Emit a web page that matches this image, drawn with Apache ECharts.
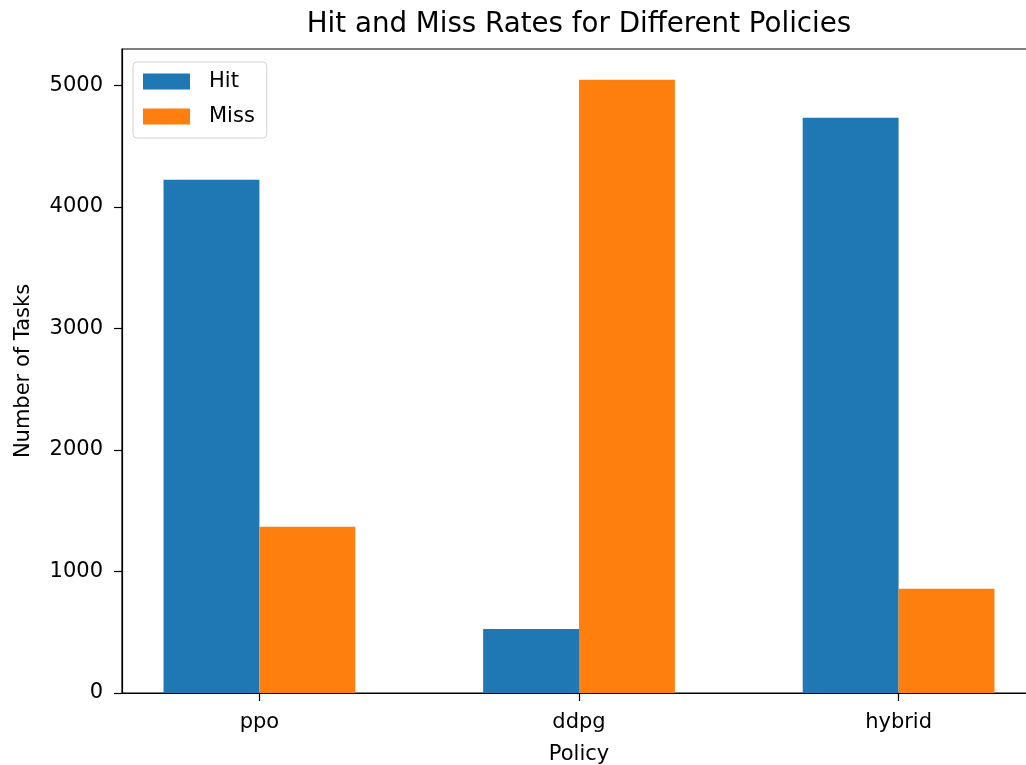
<!DOCTYPE html>
<html>
<head>
<meta charset="utf-8">
<script src="https://cdn.jsdelivr.net/npm/echarts@6/dist/echarts.min.js"></script>
<style>
html,body{margin:0;padding:0;background:#fff;}
#chart{width:1026px;height:765px;}
</style>
</head>
<body>
<div id="chart"></div>
<script>
const categories = ['ppo', 'ddpg', 'hybrid'];
const hitValues = [4222, 527, 4733];
const missValues = [1367, 5046, 857];
const yTicks = [0, 1000, 2000, 3000, 4000, 5000];
const seriesNames = ['Hit', 'Miss'];
const colors = ['#1f77b4', '#ff7f0e'];

const font = 'DejaVu Sans';
const catIdx = categories.map((c, i) => i);
const chart = echarts.init(document.getElementById('chart'), null, {renderer: 'canvas'});
chart.setOption({
  animation: false,
  backgroundColor: '#fff',
  textStyle: {fontFamily: font},
  title: {
    text: 'Hit and Miss Rates for Different Policies',
    left: 579,
    textAlign: 'center',
    top: 11,
    padding: 0,
    textStyle: {fontFamily: font, fontSize: 27.7, fontWeight: 'normal', color: '#000'}
  },
  legend: {
    orient: 'vertical',
    left: 133,
    top: 62,
    padding: [9, 12, 11, 10],
    borderColor: '#d0d0d0',
    borderWidth: 1,
    borderRadius: 4,
    itemWidth: 47,
    itemHeight: 16,
    itemGap: 14,
    icon: 'rect',
    data: seriesNames,
    textStyle: {fontFamily: font, fontSize: 21, color: '#000', padding: [0, 0, 0, 14]}
  },
  grid: {
    left: 122, width: 914, top: 49, bottom: 72,
    outerBoundsMode: 'none',
    show: true, borderColor: '#000', borderWidth: 1.2,
    containLabel: false
  },
  xAxis: {
    type: 'value',
    min: -0.43,
    max: 2.43,
    name: 'Policy',
    nameLocation: 'middle',
    nameGap: 51,
    nameTextStyle: {fontFamily: font, fontSize: 21, color: '#000'},
    splitLine: {show: false},
    axisLine: {show: true, onZero: false, lineStyle: {color: '#000', width: 1.2}},
    axisTick: {show: true, customValues: catIdx, length: 8, lineStyle: {color: '#000', width: 1.2}},
    axisLabel: {
      customValues: catIdx,
      formatter: (v) => categories[Math.round(v)],
      margin: 19,
      fontFamily: font, fontSize: 21, color: '#000'
    }
  },
  yAxis: {
    type: 'value',
    min: 0,
    max: 5298,
    name: 'Number of Tasks',
    nameLocation: 'middle',
    nameGap: 88,
    nameRotate: 90,
    nameTextStyle: {fontFamily: font, fontSize: 21, color: '#000'},
    splitLine: {show: false},
    axisLine: {show: true, onZero: false, lineStyle: {color: '#000', width: 1.2}},
    axisTick: {show: true, customValues: yTicks, length: 8, lineStyle: {color: '#000', width: 1.2}},
    axisLabel: {
      customValues: yTicks,
      formatter: (v) => String(v),
      margin: 19,
      fontFamily: font, fontSize: 21, color: '#000'
    }
  },
  series: [
    {
      name: seriesNames[0],
      type: 'bar',
      barWidth: '30%',
      barGap: '0%',
      itemStyle: {color: colors[0]},
      data: hitValues.map((v, i) => [i, v])
    },
    {
      name: seriesNames[1],
      type: 'bar',
      barWidth: '30%',
      barGap: '0%',
      itemStyle: {color: colors[1]},
      data: missValues.map((v, i) => [i, v])
    }
  ]
});
</script>
</body>
</html>
